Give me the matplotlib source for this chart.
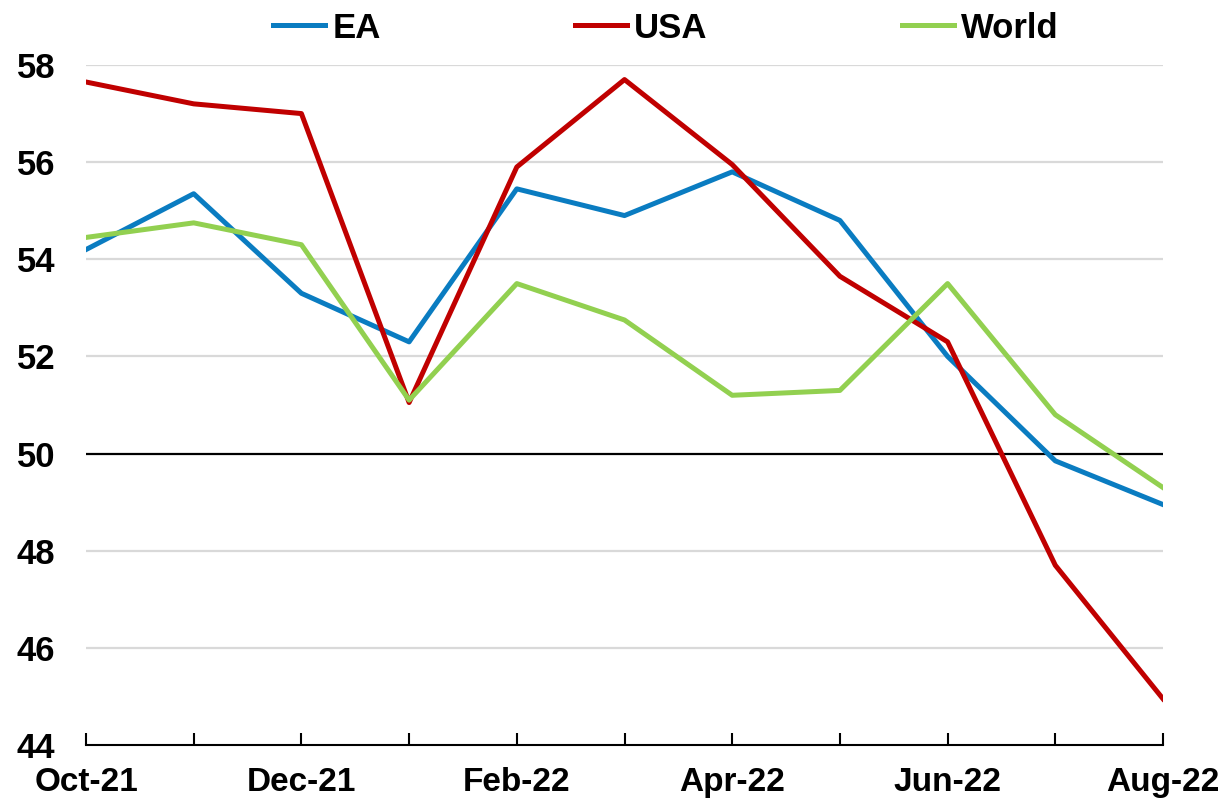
import matplotlib
matplotlib.use("Agg")
import matplotlib.pyplot as plt
import numpy as np

months = ["Oct-21", "Nov-21", "Dec-21", "Jan-22", "Feb-22", "Mar-22",
          "Apr-22", "May-22", "Jun-22", "Jul-22", "Aug-22"]
ea = [54.2, 55.35, 53.3, 52.3, 55.45, 54.9, 55.8, 54.8, 52.0, 49.85, 48.95]
usa = [57.65, 57.2, 57.0, 51.05, 55.9, 57.7, 55.95, 53.65, 52.3, 47.7, 44.95]
world = [54.45, 54.75, 54.3, 51.1, 53.5, 52.75, 51.2, 51.3, 53.5, 50.8, 49.3]

plt.rcParams["font.family"] = ["Liberation Sans", "DejaVu Sans"]
plt.rcParams["font.weight"] = "bold"

fig = plt.figure(figsize=(12.29, 8), dpi=100)
ax = fig.add_axes([86 / 1229, 55 / 800, (1163 - 86) / 1229, (745 - 65) / 800])

x = np.arange(len(months))
ax.plot(x, ea, color="#0A7CC1", lw=3.6, label="EA")
ax.plot(x, usa, color="#C00000", lw=3.6, label="USA")
ax.plot(x, world, color="#92D050", lw=3.6, label="World")

ax.set_xlim(0, len(months) - 1)
ax.set_ylim(44, 58)
ax.set_yticks(np.arange(44, 59, 2))
for yv in np.arange(46, 59, 2):
    if yv == 50:
        ax.axhline(yv, color="black", lw=1.6, zorder=1)
    else:
        ax.axhline(yv, color="#D9D9D9", lw=1.6, zorder=0)

ax.set_xticks(x)
ax.set_xticklabels([m if i % 2 == 0 else "" for i, m in enumerate(months)])
ax.tick_params(axis="x", direction="in", length=9, width=1.5, pad=16, labelsize=24)
ax.tick_params(axis="y", length=0, pad=22, labelsize=25)
for s in ["left", "right", "top"]:
    ax.spines[s].set_visible(False)
ax.spines["bottom"].set_linewidth(1.5)

fig.legend(loc="center", bbox_to_anchor=(666 / 1229, 1 - 28 / 800), ncol=3,
           frameon=False, fontsize=25, handlelength=1.5, handletextpad=0.2,
           columnspacing=5.6)

fig.savefig("out.png", dpi=100)
